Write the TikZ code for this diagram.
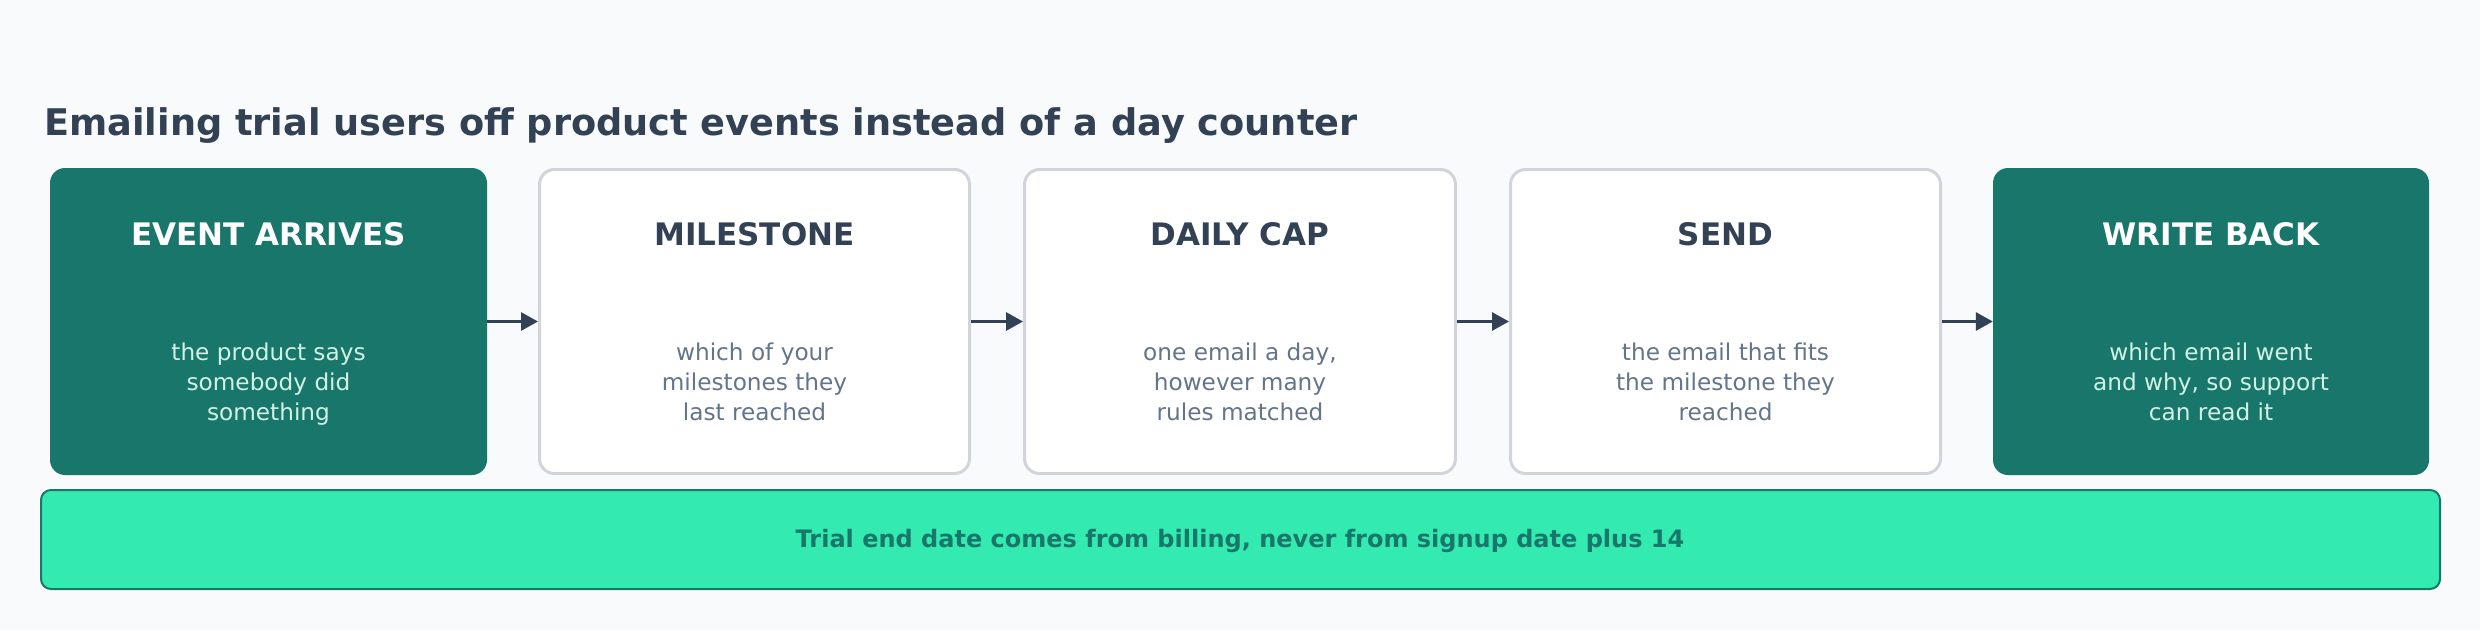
\documentclass[tikz,border=0pt]{standalone}
\usepackage{fontspec}
\setmainfont{DejaVu Sans}
\usetikzlibrary{arrows.meta}
\definecolor{bgc}{HTML}{F8FAFC}
\definecolor{teal}{HTML}{18776A}
\definecolor{mint}{HTML}{D1F0E6}
\definecolor{ink}{HTML}{334155}
\definecolor{grayt}{HTML}{64748B}
\definecolor{edge}{HTML}{D1D5DB}
\definecolor{barfill}{HTML}{33EAB0}
\tikzset{
  darkbox/.style={rectangle, rounded corners=15pt, fill=teal, draw=none, minimum height=307pt, inner sep=0pt},
  lightbox/.style={rectangle, rounded corners=15pt, fill=white, draw=edge, line width=3pt, minimum height=304pt, inner sep=0pt},
  headw/.style={anchor=base, text=white, font=\fontsize{31}{36}\selectfont\bfseries, inner sep=0pt},
  headd/.style={anchor=base, text=ink, font=\fontsize{31}{36}\selectfont\bfseries, inner sep=0pt},
  bodyw/.style={anchor=center, align=center, text=mint, font=\fontsize{23.2}{30.4}\selectfont, inner sep=0pt},
  bodyd/.style={anchor=center, align=center, text=grayt, font=\fontsize{23.2}{30.4}\selectfont, inner sep=0pt},
  flow/.style={draw=ink, line width=3pt, -{Triangle[length=17pt,width=18pt]}},
}
\begin{document}
\begin{tikzpicture}[x=1pt,y=-1pt]
\fill[bgc] (0,0) rectangle (2480,630);
\useasboundingbox (0,0) rectangle (2480,630);

\node[anchor=base west, text=ink, font=\fontsize{36.7}{42}\selectfont\bfseries, inner sep=0pt] (title) at (44,135) {Emailing trial users off product events instead of a day counter};

\node[darkbox, minimum width=437pt] (b1) at (268.5,321.5) {};
\node[lightbox, minimum width=430pt] (b2) at (754.5,321.5) {};
\node[lightbox, minimum width=431pt] (b3) at (1240,321.5) {};
\node[lightbox, minimum width=430pt] (b4) at (1725.5,321.5) {};
\node[darkbox, minimum width=436pt] (b5) at (2211,321.5) {};

\node[headw] (h1) at (268.5,245) {EVENT ARRIVES};
\node[headd] (h2) at (754.5,245) {MILESTONE};
\node[headd] (h3) at (1240,245) {DAILY CAP};
\node[headd] (h4) at (1725.5,245) {SEND};
\node[headw] (h5) at (2211,245) {WRITE BACK};

\node[bodyw] (t1) at (268.5,384.4) {\strut the product says\\somebody did\\something\strut};
\node[bodyd] (t2) at (754.5,384.4) {\strut which of your\\milestones they\\last reached\strut};
\node[bodyd] (t3) at (1240,384.4) {\strut one email a day,\\however many\\rules matched\strut};
\node[bodyd] (t4) at (1725.5,384.4) {\strut the email that fits\\the milestone they\\reached\strut};
\node[bodyw] (t5) at (2211,384.4) {\strut which email went\\and why, so support\\can read it\strut};

\draw[flow] (b1.east) -- (b2.west);
\draw[flow] (b2.east) -- (b3.west);
\draw[flow] (b3.east) -- (b4.west);
\draw[flow] (b4.east) -- (b5.west);

\node[rectangle, rounded corners=10pt, fill=barfill, draw=teal, line width=2pt, minimum width=2399pt, minimum height=99pt, inner sep=0pt] (bar) at (1240.5,539.5) {};
\node[anchor=base, text=teal, font=\fontsize{24}{28}\selectfont\bfseries, inner sep=0pt] (note) at (1240,547) {Trial end date comes from billing, never from signup date plus 14};
\end{tikzpicture}
\end{document}
